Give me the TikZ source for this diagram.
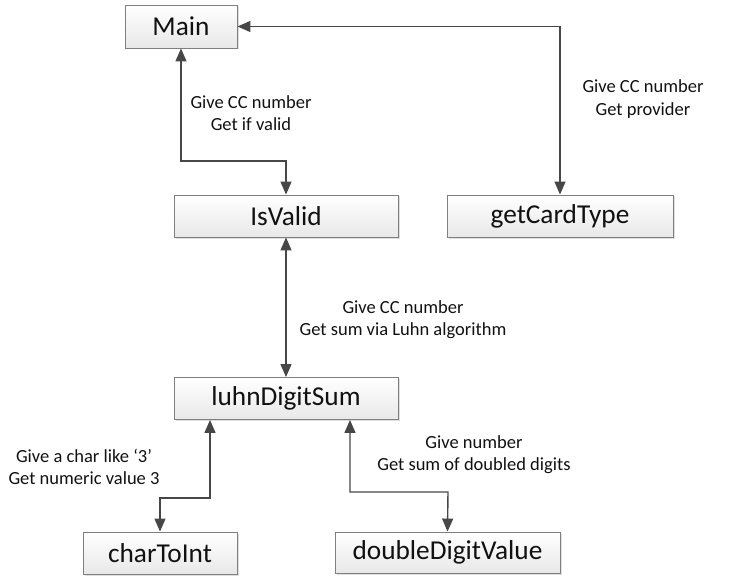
\documentclass[tikz,border=0pt]{standalone}
\usepackage{fontspec}
\setmainfont{Carlito}
\usetikzlibrary{arrows.meta,shadows}
\definecolor{linec}{HTML}{474747}
\definecolor{boxline}{HTML}{7F7F7F}
\definecolor{txt}{HTML}{111111}
\begin{document}
\begin{tikzpicture}[x=1pt,y=-1pt,
  fbox/.style={rectangle, draw=boxline, line width=0.9pt, top color=white, bottom color=black!9,
    drop shadow={shadow xshift=1.5pt, shadow yshift=-1.5pt, opacity=0.25},
    inner sep=0pt, font=\fontsize{27.3}{32}\selectfont, text=txt},
  conn/.style={draw=linec, line width=1.4pt, {Triangle[length=13pt,width=11pt]}-{Triangle[length=13pt,width=11pt]}, fill=none},
  lbl/.style={align=center, inner sep=0pt, font=\fontsize{18.5}{22.2}\selectfont, text=txt}]
\useasboundingbox (0,0) rectangle (750,583);
\node[fbox, minimum width=112pt, minimum height=43pt] (Main) at (181,26.5) {Main};
\node[fbox, minimum width=224pt, minimum height=42pt] (IsValid) at (286,216) {IsValid};
\node[fbox, minimum width=226pt, minimum height=42pt] (getCardType) at (560,216) {getCardType};
\node[fbox, minimum width=224pt, minimum height=42pt] (luhn) at (286,398.5) {luhnDigitSum};
\node[fbox, minimum width=154pt, minimum height=42pt] (charToInt) at (160,553) {charToInt};
\node[fbox, minimum width=225pt, minimum height=41pt] (ddv) at (447.5,552.5) {doubleDigitValue};
\coordinate (e1) at (286,161);
\coordinate (e2) at (160,498);
\coordinate (e3) at (448,492);
\draw[conn] (Main.south) -- (Main.south |- e1) -- (e1) -- (IsValid.north);
\draw[conn] (Main.east) -| (getCardType.north);
\draw[conn] (IsValid.south) -- (luhn.north);
\draw[conn] ([xshift=-76pt]luhn.south) |- (e2) -- (charToInt.north);
\draw[conn] ([xshift=64pt]luhn.south) |- (e3) -- (ddv.north);
\node[lbl] (l1) at (251,113) {Give CC number\\Get if valid};
\node[lbl] (l2) at (643,99) {Give CC number\\Get provider};
\node[lbl] (l3) at (403,319.5) {Give CC number\\Get sum via Luhn algorithm};
\node[lbl] (l4) at (84,467) {Give a char like ‘3’\\Get numeric value 3};
\node[lbl] (l5) at (474,454.5) {Give number\\Get sum of doubled digits};
\end{tikzpicture}
\end{document}
